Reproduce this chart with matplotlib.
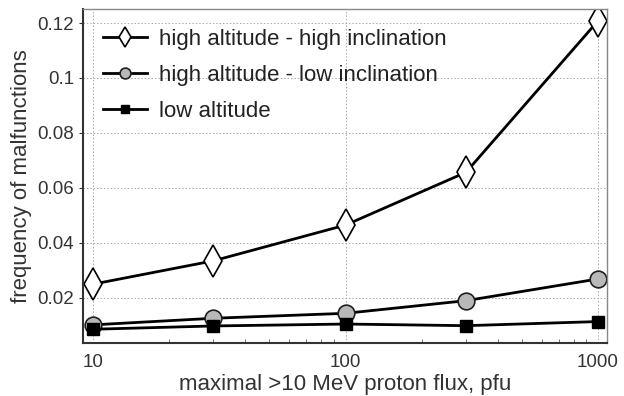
import matplotlib
matplotlib.use('Agg')
import matplotlib.pyplot as plt
from matplotlib.ticker import FixedLocator, FixedFormatter, LogLocator, NullFormatter

plt.rcParams['font.family'] = ['Liberation Sans', 'DejaVu Sans']

flux = [10, 30, 100, 300, 1000]
hi_hi = [0.0250, 0.0335, 0.0465, 0.0657, 0.1208]
hi_lo = [0.0102, 0.0126, 0.0144, 0.0190, 0.0269]
low = [0.0086, 0.0098, 0.0105, 0.0099, 0.0114]
yticks = [0.02, 0.04, 0.06, 0.08, 0.1, 0.12]
ylabels = ['0.02', '0.04', '0.06', '0.08', '0.1', '0.12']

fig = plt.figure(figsize=(6.24, 3.96), dpi=100)
ax = fig.add_axes([83/624, 1-343/396, 524/624, 334/396])

ax.plot(flux, hi_hi, c='black', lw=2, marker='d', ms=16, mfc='white', mec='black', mew=1.2,
        label='high altitude - high inclination')
ax.plot(flux, hi_lo, c='black', lw=2, marker='o', ms=12, mfc='#b8b8b8', mec='#202020', mew=1.2,
        label='high altitude - low inclination')
ax.plot(flux, low, c='black', lw=2, marker='s', ms=8.5, mfc='black', mec='black',
        label='low altitude')

ax.set_xscale('log')
ax.set_xlim(9.13, 1085)
ax.set_ylim(0.0036, 0.1251)
ax.xaxis.set_major_locator(FixedLocator([10, 100, 1000]))
ax.xaxis.set_major_formatter(FixedFormatter(['10', '100', '1000']))
ax.xaxis.set_minor_locator(LogLocator(base=10, subs=range(2, 10)))
ax.xaxis.set_minor_formatter(NullFormatter())
ax.set_yticks(yticks)
ax.set_yticklabels(ylabels)

ax.grid(True, which='major', ls=(0, (1.5, 2)), color='#a8a8a8', lw=0.7)
ax.tick_params(axis='both', which='major', labelsize=13.5, colors='#333333', length=3)
ax.tick_params(axis='x', which='major', direction='in', length=0, pad=8)
ax.tick_params(axis='x', which='minor', direction='in', length=3, color='#555555')
for side in ['top', 'right']:
    ax.spines[side].set_color('#888888')
    ax.spines[side].set_linewidth(1)
for side in ['left', 'bottom']:
    ax.spines[side].set_color('#333333')
    ax.spines[side].set_linewidth(1.5)

ax.set_xlabel('maximal >10 MeV proton flux, pfu', fontsize=16, color='#333333', labelpad=2)
ax.set_ylabel('frequency of malfunctions', fontsize=16, color='#333333', labelpad=4)
ax.legend(loc='upper left', frameon=False, fontsize=16, handlelength=2.0, labelspacing=0.68,
          borderaxespad=0.5, markerscale=0.65, handletextpad=0.5, labelcolor='#222222')

fig.savefig('out.png', dpi=100)
